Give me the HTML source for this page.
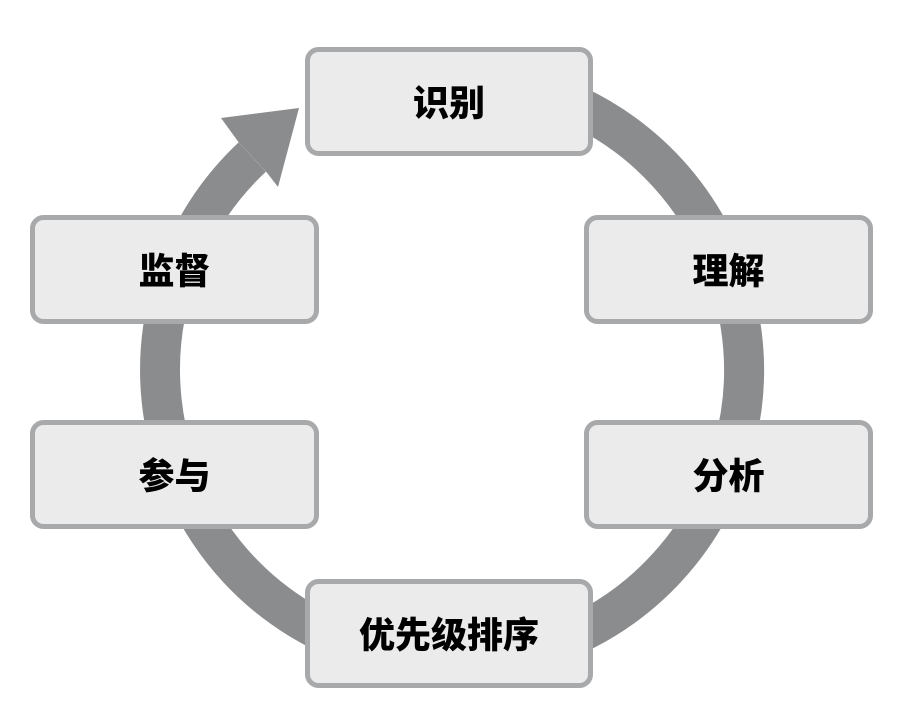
<!DOCTYPE html>
<html>
<head>
<meta charset="utf-8">
<style>
  html, body { margin: 0; padding: 0; background: #ffffff; }
  body { width: 898px; height: 726px; overflow: hidden; }
  svg { display: block; }
  text { font-family: "Liberation Sans", "Noto Sans CJK SC", sans-serif; font-weight: 900; font-size: 36px; fill: #000; }
</style>
</head>
<body>
<svg width="898" height="726" viewBox="0 0 898 726" xmlns="http://www.w3.org/2000/svg">
  <!-- ring -->
  <path d="M 452 78 A 292 292 0 1 1 252.3 157" fill="none" stroke="#8b8c8e" stroke-width="40"/>
  <!-- arrowhead -->
  <polygon points="238.7,142.4 221,118 299,108 278,187 266,171.5" fill="#8b8c8e"/>

  <!-- boxes -->
  <g fill="#ebebeb" stroke="#a8a9ab" stroke-width="5">
    <rect x="307.5" y="49.5" width="283" height="104" rx="11"/>
    <rect x="586.5" y="217.5" width="284" height="104" rx="11"/>
    <rect x="586.5" y="422.5" width="284" height="104" rx="11"/>
    <rect x="307.5" y="581.5" width="283" height="104" rx="11"/>
    <rect x="32.5" y="422.5" width="284" height="104" rx="11"/>
    <rect x="32.5" y="217.5" width="284" height="104" rx="11"/>
  </g>

  <!-- labels -->
  <g text-anchor="middle" dominant-baseline="central">
    <text x="449" y="103">识别</text>
    <text x="728.5" y="271">理解</text>
    <text x="728.5" y="476">分析</text>
    <text x="449" y="635">优先级排序</text>
    <text x="174.5" y="476">参与</text>
    <text x="174.5" y="271">监督</text>
  </g>
</svg>
</body>
</html>
